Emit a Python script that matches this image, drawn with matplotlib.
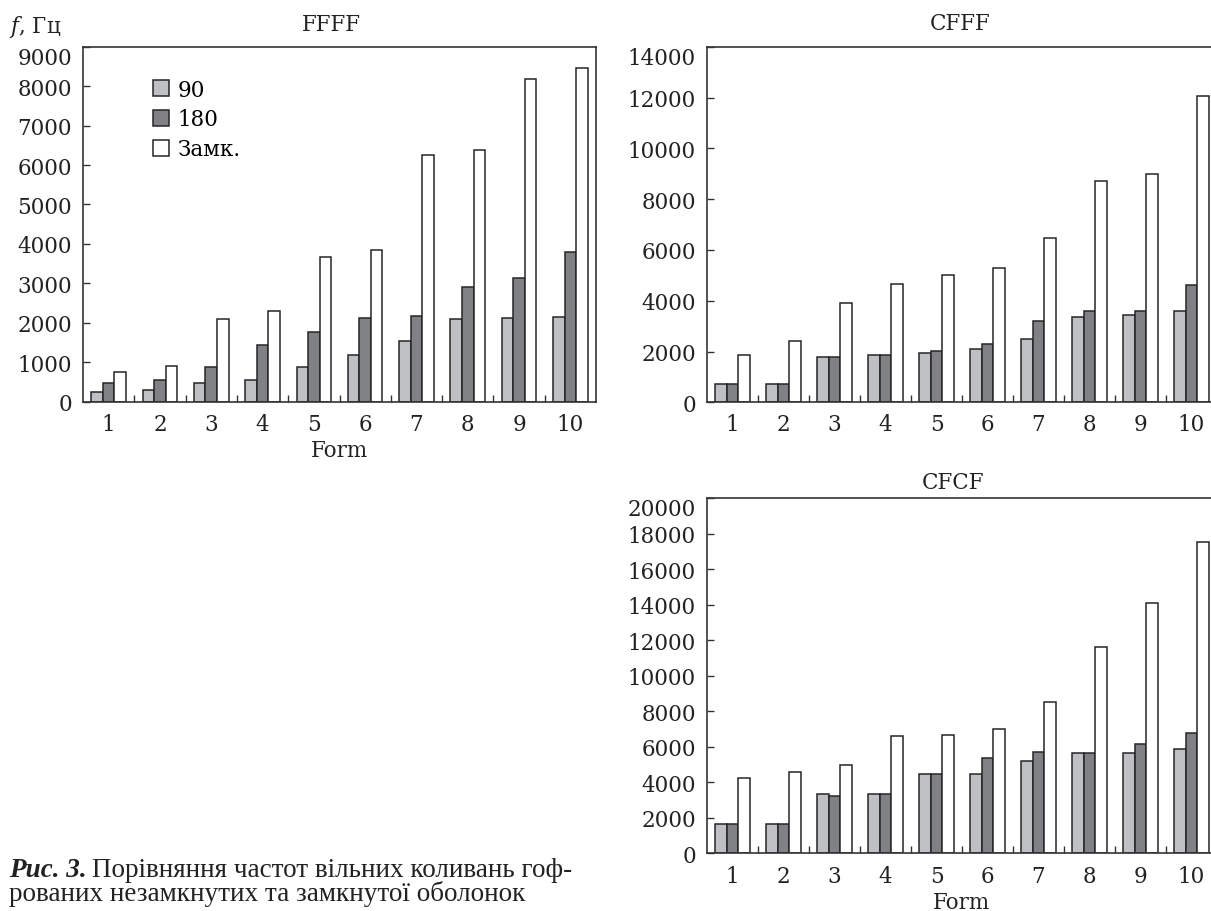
import matplotlib
matplotlib.use("Agg")
import numpy as np
import matplotlib.pyplot as plt
from matplotlib.patches import Patch

plt.rcParams["font.family"] = ["DejaVu Serif"]
plt.rcParams["mathtext.fontset"] = "dejavuserif"

forms = np.arange(1, 11)
tick_labels = [str(i) for i in forms]
series_names = ["90", "180", "Замк."]

# FFFF
ffff_90 = [240, 298, 463, 555, 872, 1195, 1545, 2100, 2133, 2142]
ffff_180 = [468, 552, 872, 1450, 1767, 2125, 2176, 2909, 3148, 3803]
ffff_closed = [760, 913, 2100, 2312, 3662, 3847, 6257, 6384, 8191, 8470]

# CFFF
cfff_90 = [740, 740, 1795, 1861, 1954, 2086, 2495, 3353, 3432, 3591]
cfff_180 = [740, 740, 1795, 1861, 2020, 2297, 3195, 3591, 3591, 4620]
cfff_closed = [1873, 2428, 3921, 4660, 5017, 5294, 6482, 8713, 9003, 12040]

# CFCF
cfcf_90 = [1667, 1667, 3362, 3362, 4473, 4473, 5188, 5678, 5678, 5866]
cfcf_180 = [1667, 1667, 3249, 3362, 4473, 5358, 5697, 5678, 6168, 6789]
cfcf_closed = [4266, 4587, 5000, 6582, 6676, 6977, 8542, 11627, 14077, 17524]

colors = ["#bfc0c4", "#808185", "#ffffff"]
edge = "#262626"

W, H = 1211, 912
fig = plt.figure(figsize=(W / 100, H / 100), dpi=100)


def make_axes(left, top, right, bottom):
    return fig.add_axes([left / W, 1 - bottom / H, (right - left) / W, (bottom - top) / H])


def draw_panel(ax, data, yticks):
    bw = 0.225
    for k, vals in enumerate(data):
        ax.bar(forms + (k - 1) * bw, vals, width=bw, color=colors[k],
               edgecolor=edge, linewidth=1.1, zorder=2)
    ax.set_xlim(0.5, 10.5)
    ax.set_ylim(0, yticks[-1])
    ax.set_yticks(yticks)
    ax.set_xticks(forms)
    ax.set_xticklabels(tick_labels)
    ax.set_xticks(np.arange(1.5, 10.5, 1.0), minor=True)
    ax.tick_params(axis="both", which="major", labelsize=15.5, colors="#222222")
    ax.tick_params(axis="x", which="major", length=0, pad=8)
    ax.tick_params(axis="y", which="major", direction="in", length=5, width=1.0,
                   color="#333333", labelcolor="#222222", pad=8)
    ax.tick_params(axis="x", which="minor", direction="in", length=5, width=1.0, color="#333333")
    # top label sits just under the upper frame, as in the original
    ax.yaxis.get_major_ticks()[-1].label1.set_verticalalignment("top")
    for s in ax.spines.values():
        s.set_linewidth(1.2)
        s.set_color("#333333")


# FFFF panel
ax1 = make_axes(83, 47.7, 596, 402.7)
draw_panel(ax1, [ffff_90, ffff_180, ffff_closed], np.arange(0, 9001, 1000))
ax1.set_xlabel("Form", fontsize=15.5, labelpad=3, color="#222222")
handles = [Patch(facecolor=c, edgecolor=edge, linewidth=1.1) for c in colors]
ax1.legend(handles, series_names, loc="upper left", bbox_to_anchor=(0.12, 0.934),
           frameon=False, fontsize=15.5, handlelength=0.75, handleheight=0.75,
           handletextpad=0.4, labelspacing=0.36, borderaxespad=0)
fig.text(331 / W, 1 - 25 / H, "FFFF", ha="center", va="center", fontsize=15.5, color="#222222")
fig.text(9 / W, 1 - 27 / H, "$f$, Гц", ha="left", va="center", fontsize=15.5, color="#222222")

# CFFF panel
ax2 = make_axes(707, 47.7, 1217, 403.3)
draw_panel(ax2, [cfff_90, cfff_180, cfff_closed], np.arange(0, 14001, 2000))
fig.text(960 / W, 1 - 24 / H, "CFFF", ha="center", va="center", fontsize=15.5, color="#222222")

# CFCF panel
ax3 = make_axes(707, 499, 1217, 854.4)
draw_panel(ax3, [cfcf_90, cfcf_180, cfcf_closed], np.arange(0, 20001, 2000))
ax3.set_xlabel("Form", fontsize=15.5, labelpad=3, color="#222222")
fig.text(953 / W, 1 - 483 / H, "CFCF", ha="center", va="center", fontsize=15.5, color="#222222")

# caption
cap_font = ["Liberation Serif", "DejaVu Serif"]
t1 = fig.text(9 / W, 1 - 877 / H, "Рис. 3.", family=cap_font, fontsize=19.5,
              fontweight="bold", fontstyle="italic", va="baseline", color="#222222")
renderer = fig.canvas.get_renderer()
bb = t1.get_window_extent(renderer)
fig.text((bb.x1 + 5) / W, 1 - 877 / H, "Порівняння частот вільних коливань гоф-",
         family=cap_font, fontsize=19.5, va="baseline", color="#222222")
fig.text(9 / W, 1 - 901 / H, "рованих незамкнутих та замкнутої оболонок",
         family=cap_font, fontsize=19.5, va="baseline", color="#222222")

fig.savefig("out.png", dpi=100)
